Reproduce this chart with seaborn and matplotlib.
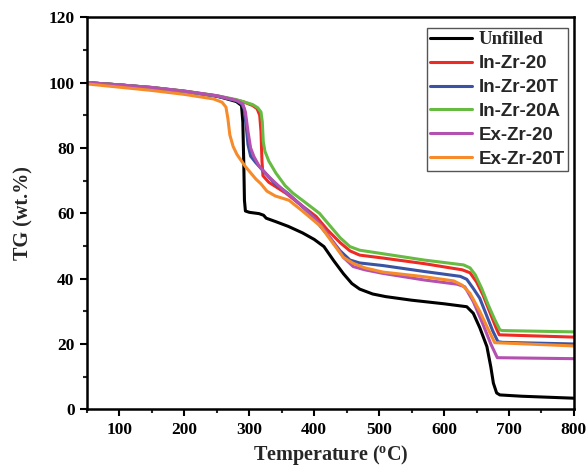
import matplotlib
matplotlib.use('Agg')
import matplotlib.pyplot as plt
from matplotlib.ticker import MultipleLocator
import pandas as pd
import seaborn as sns

# TGA curves (temperature in degC, weight %)
unfilled_t = [50, 100, 150, 200, 250, 280, 288, 290, 291.5, 292.5, 294, 300, 315, 322, 326, 340,
              360, 382, 400, 415, 430, 445, 458, 470, 490, 510, 550, 600, 635, 645, 655,
              666, 672, 676, 681, 686, 720, 800]
unfilled_v = [100.0, 99.3, 98.4, 97.3, 95.9, 94.2, 93.0, 88.0, 75.0, 64.0, 60.7, 60.3, 59.9, 59.4,
              58.5, 57.5, 56.0, 54.0, 52.0, 49.8, 45.5, 41.5, 38.5, 36.8, 35.3, 34.5, 33.4, 32.3,
              31.4, 29.4, 25.0, 19.2, 13.0, 8.0, 5.0, 4.4, 4.0, 3.4]

in_zr20_t = [50, 100, 150, 200, 250, 290, 305, 312, 316, 318, 319.5, 321, 330, 356, 380, 403,
             420, 440, 455, 470, 506, 569, 628, 640, 650, 660, 670, 680, 685, 800]
in_zr20_v = [100.0, 99.3, 98.5, 97.4, 95.9, 94.2, 93.0, 92.0, 90.0, 85.0, 76.0, 71.5, 69.5, 66.2,
             62.5, 59.0, 55.0, 51.0, 48.5, 47.2, 46.3, 44.6, 42.7, 41.8, 39.0, 35.0, 30.0, 25.0,
             22.8, 22.1]

in_zr20t_t = [50, 100, 150, 200, 250, 280, 288, 292, 295, 298, 302, 310, 320, 340, 360, 393,
              420, 440, 455, 470, 506, 569, 625, 635, 645, 655, 665, 675, 683, 690, 800]
in_zr20t_v = [100.0, 99.3, 98.5, 97.3, 95.8, 94.5, 93.5, 92.0, 87.0, 81.0, 77.5, 75.5, 73.3, 69.0,
              66.0, 60.0, 53.5, 48.5, 45.7, 44.8, 44.0, 42.2, 40.7, 39.8, 37.0, 34.0, 29.0, 24.0,
              20.7, 20.5, 20.0]

in_zr20a_t = [50, 100, 150, 200, 250, 280, 305, 313, 318, 320, 321.5, 324, 330, 341, 355, 367,
              385, 408, 425, 440, 455, 470, 500, 569, 630, 640, 648, 658, 668, 678, 686, 690, 800]
in_zr20a_v = [100.0, 99.3, 98.5, 97.4, 96.0, 94.8, 93.3, 92.3, 91.0, 88.0, 82.0, 79.0, 76.0, 72.3,
              68.5, 66.2, 63.5, 60.0, 56.0, 52.5, 49.8, 48.7, 47.8, 45.7, 44.2, 43.3, 41.2, 37.0,
              32.0, 27.5, 24.3, 24.1, 23.7]

ex_zr20_t = [50, 100, 150, 200, 250, 280, 290, 294, 298, 302, 307, 315, 325, 331, 350, 380,
             410, 430, 445, 460, 478, 506, 569, 620, 632, 645, 660, 672, 682, 800]
ex_zr20_v = [100.0, 99.3, 98.5, 97.4, 96.0, 94.6, 93.5, 91.0, 85.0, 80.0, 77.4, 74.5, 72.3, 71.0,
             67.5, 62.5, 56.5, 51.0, 46.5, 43.7, 42.7, 41.6, 39.6, 38.3, 37.5, 33.0, 26.0, 20.0,
             15.8, 15.5]

ex_zr20t_t = [50, 100, 150, 200, 245, 258, 264, 267, 270, 275, 281, 294, 310, 318, 327, 340,
              361, 380, 410, 430, 445, 460, 478, 506, 569, 615, 628, 640, 655, 668, 678, 800]
ex_zr20t_v = [99.6, 98.6, 97.6, 96.4, 95.0, 94.0, 92.5, 89.0, 84.0, 80.5, 78.0, 74.3, 70.5, 69.0,
              66.8, 65.3, 64.0, 61.0, 56.0, 50.5, 46.5, 44.7, 43.3, 42.0, 40.6, 39.3, 38.0, 35.5,
              30.0, 24.5, 20.4, 19.4]

labels = ['Unfilled', 'In-Zr-20', 'In-Zr-20T', 'In-Zr-20A', 'Ex-Zr-20', 'Ex-Zr-20T']
colors = ['#000000', '#EE2A24', '#3A53A4', '#67BB43', '#B350B0', '#F68B2C']
temps = [unfilled_t, in_zr20_t, in_zr20t_t, in_zr20a_t, ex_zr20_t, ex_zr20t_t]
weights = [unfilled_v, in_zr20_v, in_zr20t_v, in_zr20a_v, ex_zr20_v, ex_zr20t_v]

sns.set_theme(style='ticks')
plt.rcParams['font.family'] = ['Liberation Serif', 'DejaVu Serif']
plt.rcParams['font.weight'] = 'bold'
plt.rcParams['mathtext.fontset'] = 'custom'
plt.rcParams['mathtext.rm'] = 'Liberation Serif:bold'
plt.rcParams['mathtext.bf'] = 'Liberation Serif:bold'
plt.rcParams['mathtext.default'] = 'bf'

df = pd.concat([pd.DataFrame({'T': t, 'TG': v, 'sample': name})
                for t, v, name in zip(temps, weights, labels)], ignore_index=True)

fig = plt.figure(figsize=(5.88, 4.75), dpi=100)
ax = fig.add_axes([0.148, 0.1383, 0.828, 0.8253])

sns.lineplot(data=df, x='T', y='TG', hue='sample', hue_order=labels,
             palette=dict(zip(labels, colors)), sort=False, estimator=None,
             linewidth=2.2, ax=ax, legend=False)

ax.set_xlim(50, 800)
ax.set_ylim(0, 120)
ax.xaxis.set_major_locator(MultipleLocator(100))
ax.xaxis.set_minor_locator(MultipleLocator(50))
ax.yaxis.set_major_locator(MultipleLocator(20))
ax.yaxis.set_minor_locator(MultipleLocator(10))
ax.tick_params(which='major', direction='out', length=5, width=1.5, labelsize=12.5, pad=4,
               colors='black')
ax.tick_params(which='minor', direction='out', length=3, width=1.5)
for lab in ax.get_xticklabels() + ax.get_yticklabels():
    lab.set_fontweight('bold')
for sp in ax.spines.values():
    sp.set_linewidth(1.8)
    sp.set_color('black')

ax.set_xlabel('Temperature ($^{o}$C)', fontsize=14.5, fontweight='bold', labelpad=4)
ax.set_ylabel('TG (wt.%)', fontsize=14.5, fontweight='bold', labelpad=11)

handles = [plt.Line2D([], [], color=c, lw=2.2) for c in colors]
leg = ax.legend(handles, labels, loc='upper right', bbox_to_anchor=(0.988, 0.973),
                borderaxespad=0, fancybox=False, edgecolor='#555555', framealpha=1,
                handlelength=2.25, handletextpad=0.33, labelspacing=0.36, borderpad=0.18,
                prop={'family': ['Liberation Sans'], 'weight': 'bold', 'size': 13.5})
leg.get_frame().set_linewidth(1.0)
leg.get_texts()[0].set_fontfamily(['Liberation Serif'])

fig.savefig('out.png', dpi=100)
